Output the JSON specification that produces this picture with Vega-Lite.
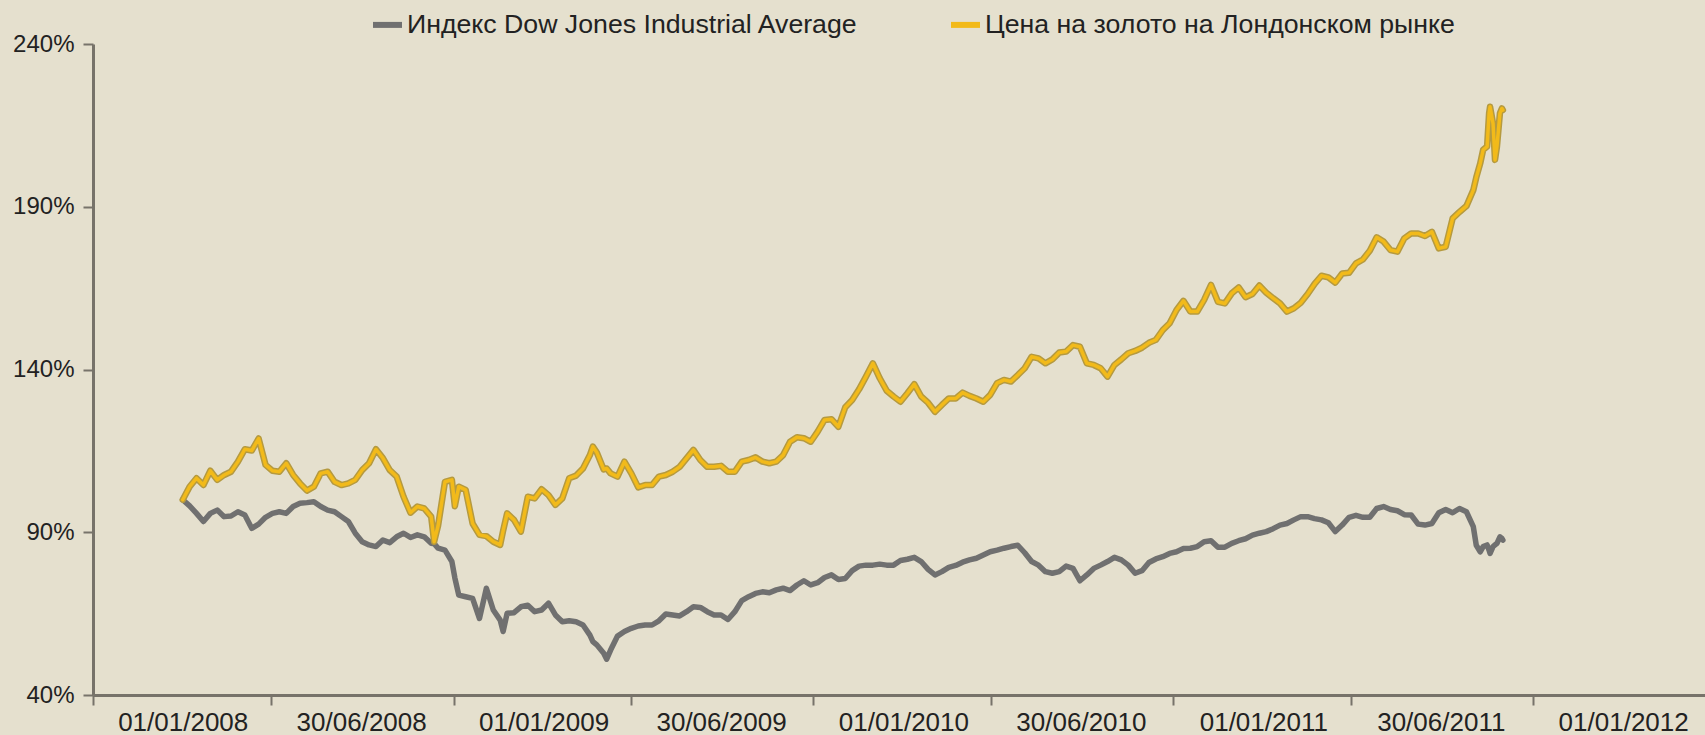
{
  "$schema": "https://vega.github.io/schema/vega-lite/v6.json",
  "width": 1612,
  "height": 651,
  "autosize": {"type": "none"},
  "padding": {"left": 93, "top": 44, "right": 0, "bottom": 40},
  "background": "#E5E0CE",
  "config": {
    "view": {"stroke": null},
    "font": "Liberation Sans"
  },
  "data": {
    "values": [
      {"date": "2008-01-01", "dow": 100, "gold": 100},
      {"date": "2008-01-08", "dow": 98.1, "gold": 104.0},
      {"date": "2008-01-15", "dow": 95.8, "gold": 106.6},
      {"date": "2008-01-22", "dow": 93.3, "gold": 104.5},
      {"date": "2008-01-29", "dow": 95.8, "gold": 108.9},
      {"date": "2008-02-05", "dow": 96.8, "gold": 106.1},
      {"date": "2008-02-12", "dow": 94.8, "gold": 107.6},
      {"date": "2008-02-19", "dow": 95.0, "gold": 108.6},
      {"date": "2008-02-26", "dow": 96.3, "gold": 111.7},
      {"date": "2008-03-04", "dow": 95.3, "gold": 115.5},
      {"date": "2008-03-11", "dow": 91.2, "gold": 115.1},
      {"date": "2008-03-18", "dow": 92.5, "gold": 118.8},
      {"date": "2008-03-25", "dow": 94.6, "gold": 110.7},
      {"date": "2008-04-01", "dow": 95.8, "gold": 108.9},
      {"date": "2008-04-08", "dow": 96.3, "gold": 108.6},
      {"date": "2008-04-15", "dow": 95.8, "gold": 111.2},
      {"date": "2008-04-22", "dow": 97.9, "gold": 107.6},
      {"date": "2008-04-29", "dow": 98.9, "gold": 105.0},
      {"date": "2008-05-06", "dow": 99.1, "gold": 102.8},
      {"date": "2008-05-13", "dow": 99.4, "gold": 104.0},
      {"date": "2008-05-20", "dow": 97.9, "gold": 108.1},
      {"date": "2008-05-27", "dow": 96.8, "gold": 108.6},
      {"date": "2008-06-03", "dow": 96.3, "gold": 105.5},
      {"date": "2008-06-10", "dow": 94.8, "gold": 104.5},
      {"date": "2008-06-17", "dow": 93.3, "gold": 105.0},
      {"date": "2008-06-24", "dow": 89.7, "gold": 106.1},
      {"date": "2008-07-01", "dow": 87.1, "gold": 109.1},
      {"date": "2008-07-08", "dow": 86.1, "gold": 111.2},
      {"date": "2008-07-15", "dow": 85.6, "gold": 115.5},
      {"date": "2008-07-22", "dow": 87.6, "gold": 112.8},
      {"date": "2008-07-29", "dow": 86.8, "gold": 109.1},
      {"date": "2008-08-05", "dow": 88.6, "gold": 107.1},
      {"date": "2008-08-12", "dow": 89.7, "gold": 100.9},
      {"date": "2008-08-19", "dow": 88.4, "gold": 96.0},
      {"date": "2008-08-26", "dow": 89.2, "gold": 97.9},
      {"date": "2008-09-02", "dow": 88.6, "gold": 97.3},
      {"date": "2008-09-09", "dow": 86.6, "gold": 94.8},
      {"date": "2008-09-12", "dow": 86.5, "gold": 87.1},
      {"date": "2008-09-16", "dow": 85.1, "gold": 92.0},
      {"date": "2008-09-23", "dow": 84.5, "gold": 105.5},
      {"date": "2008-09-30", "dow": 81.0, "gold": 106.1},
      {"date": "2008-10-03", "dow": 76.0, "gold": 98.0},
      {"date": "2008-10-07", "dow": 70.7, "gold": 104.0},
      {"date": "2008-10-14", "dow": 70.2, "gold": 103.0},
      {"date": "2008-10-21", "dow": 69.7, "gold": 92.7},
      {"date": "2008-10-28", "dow": 63.5, "gold": 89.2},
      {"date": "2008-11-04", "dow": 72.8, "gold": 88.8},
      {"date": "2008-11-11", "dow": 66.1, "gold": 87.1},
      {"date": "2008-11-18", "dow": 63.0, "gold": 86.1},
      {"date": "2008-11-21", "dow": 59.5, "gold": 90.5},
      {"date": "2008-11-25", "dow": 65.1, "gold": 95.8},
      {"date": "2008-12-02", "dow": 65.3, "gold": 93.8},
      {"date": "2008-12-09", "dow": 67.1, "gold": 90.2},
      {"date": "2008-12-16", "dow": 67.6, "gold": 100.9},
      {"date": "2008-12-23", "dow": 65.6, "gold": 100.4},
      {"date": "2008-12-30", "dow": 66.1, "gold": 103.2},
      {"date": "2009-01-06", "dow": 68.2, "gold": 101.4},
      {"date": "2009-01-13", "dow": 64.6, "gold": 98.4},
      {"date": "2009-01-20", "dow": 62.5, "gold": 100.4},
      {"date": "2009-01-27", "dow": 62.8, "gold": 106.6},
      {"date": "2009-02-03", "dow": 62.5, "gold": 107.4},
      {"date": "2009-02-10", "dow": 61.5, "gold": 109.6},
      {"date": "2009-02-17", "dow": 58.4, "gold": 113.7},
      {"date": "2009-02-20", "dow": 56.4, "gold": 116.3},
      {"date": "2009-02-24", "dow": 55.4, "gold": 114.5},
      {"date": "2009-03-03", "dow": 52.8, "gold": 109.3},
      {"date": "2009-03-06", "dow": 51.0, "gold": 109.6},
      {"date": "2009-03-10", "dow": 53.8, "gold": 108.1},
      {"date": "2009-03-17", "dow": 58.1, "gold": 107.1},
      {"date": "2009-03-24", "dow": 59.5, "gold": 111.7},
      {"date": "2009-03-31", "dow": 60.5, "gold": 108.1},
      {"date": "2009-04-07", "dow": 61.2, "gold": 103.8},
      {"date": "2009-04-14", "dow": 61.5, "gold": 104.5},
      {"date": "2009-04-21", "dow": 61.5, "gold": 104.5},
      {"date": "2009-04-28", "dow": 62.8, "gold": 107.1},
      {"date": "2009-05-05", "dow": 64.9, "gold": 107.6},
      {"date": "2009-05-12", "dow": 64.6, "gold": 108.6},
      {"date": "2009-05-19", "dow": 64.3, "gold": 110.1},
      {"date": "2009-05-26", "dow": 65.6, "gold": 112.7},
      {"date": "2009-06-02", "dow": 67.1, "gold": 115.3},
      {"date": "2009-06-09", "dow": 66.9, "gold": 112.2},
      {"date": "2009-06-16", "dow": 65.6, "gold": 110.1},
      {"date": "2009-06-23", "dow": 64.6, "gold": 110.1},
      {"date": "2009-06-30", "dow": 64.6, "gold": 110.4},
      {"date": "2009-07-07", "dow": 63.2, "gold": 108.6},
      {"date": "2009-07-14", "dow": 65.6, "gold": 108.6},
      {"date": "2009-07-21", "dow": 69.0, "gold": 111.7},
      {"date": "2009-07-28", "dow": 70.2, "gold": 112.2},
      {"date": "2009-08-04", "dow": 71.2, "gold": 113.0},
      {"date": "2009-08-11", "dow": 71.7, "gold": 111.7},
      {"date": "2009-08-18", "dow": 71.4, "gold": 111.2},
      {"date": "2009-08-25", "dow": 72.3, "gold": 111.7},
      {"date": "2009-09-01", "dow": 72.8, "gold": 113.7},
      {"date": "2009-09-08", "dow": 72.1, "gold": 117.8},
      {"date": "2009-09-15", "dow": 73.8, "gold": 119.2},
      {"date": "2009-09-22", "dow": 75.1, "gold": 118.9},
      {"date": "2009-09-29", "dow": 73.8, "gold": 117.8},
      {"date": "2009-10-06", "dow": 74.5, "gold": 120.9},
      {"date": "2009-10-13", "dow": 76.1, "gold": 124.5},
      {"date": "2009-10-20", "dow": 76.9, "gold": 124.7},
      {"date": "2009-10-27", "dow": 75.5, "gold": 122.4},
      {"date": "2009-11-03", "dow": 75.8, "gold": 128.4},
      {"date": "2009-11-10", "dow": 78.2, "gold": 130.6},
      {"date": "2009-11-17", "dow": 79.6, "gold": 133.9},
      {"date": "2009-11-24", "dow": 79.9, "gold": 137.8},
      {"date": "2009-12-01", "dow": 79.9, "gold": 141.9},
      {"date": "2009-12-08", "dow": 80.2, "gold": 137.3},
      {"date": "2009-12-15", "dow": 79.9, "gold": 133.5},
      {"date": "2009-12-22", "dow": 79.9, "gold": 131.7},
      {"date": "2009-12-29", "dow": 81.3, "gold": 130.1},
      {"date": "2010-01-05", "dow": 81.7, "gold": 132.7},
      {"date": "2010-01-12", "dow": 82.3, "gold": 135.5},
      {"date": "2010-01-19", "dow": 81.0, "gold": 131.7},
      {"date": "2010-01-26", "dow": 78.6, "gold": 129.8},
      {"date": "2010-02-02", "dow": 76.9, "gold": 127.0},
      {"date": "2010-02-09", "dow": 77.9, "gold": 129.1},
      {"date": "2010-02-16", "dow": 79.2, "gold": 131.1},
      {"date": "2010-02-23", "dow": 79.8, "gold": 131.1},
      {"date": "2010-03-02", "dow": 80.8, "gold": 132.9},
      {"date": "2010-03-09", "dow": 81.5, "gold": 131.9},
      {"date": "2010-03-16", "dow": 82.0, "gold": 131.1},
      {"date": "2010-03-23", "dow": 83.0, "gold": 130.1},
      {"date": "2010-03-30", "dow": 84.0, "gold": 132.2},
      {"date": "2010-04-06", "dow": 84.5, "gold": 135.8},
      {"date": "2010-04-13", "dow": 85.1, "gold": 136.8},
      {"date": "2010-04-20", "dow": 85.6, "gold": 136.3},
      {"date": "2010-04-27", "dow": 86.0, "gold": 138.3},
      {"date": "2010-05-04", "dow": 83.7, "gold": 140.4},
      {"date": "2010-05-11", "dow": 81.0, "gold": 143.9},
      {"date": "2010-05-18", "dow": 79.9, "gold": 143.4},
      {"date": "2010-05-25", "dow": 77.9, "gold": 141.9},
      {"date": "2010-06-01", "dow": 77.4, "gold": 143.1},
      {"date": "2010-06-08", "dow": 77.9, "gold": 145.2},
      {"date": "2010-06-15", "dow": 79.6, "gold": 145.5},
      {"date": "2010-06-22", "dow": 78.9, "gold": 147.5},
      {"date": "2010-06-29", "dow": 75.1, "gold": 147.0},
      {"date": "2010-07-06", "dow": 76.9, "gold": 141.9},
      {"date": "2010-07-13", "dow": 78.9, "gold": 141.4},
      {"date": "2010-07-20", "dow": 79.9, "gold": 140.4},
      {"date": "2010-07-27", "dow": 81.0, "gold": 137.8},
      {"date": "2010-08-03", "dow": 82.3, "gold": 141.4},
      {"date": "2010-08-10", "dow": 81.5, "gold": 143.1},
      {"date": "2010-08-17", "dow": 79.9, "gold": 145.0},
      {"date": "2010-08-24", "dow": 77.4, "gold": 145.7},
      {"date": "2010-08-31", "dow": 78.2, "gold": 146.7},
      {"date": "2010-09-07", "dow": 80.7, "gold": 148.2},
      {"date": "2010-09-14", "dow": 81.8, "gold": 149.1},
      {"date": "2010-09-21", "dow": 82.5, "gold": 152.1},
      {"date": "2010-09-28", "dow": 83.5, "gold": 154.2},
      {"date": "2010-10-05", "dow": 84.0, "gold": 158.3},
      {"date": "2010-10-12", "dow": 85.0, "gold": 161.1},
      {"date": "2010-10-19", "dow": 85.1, "gold": 157.8},
      {"date": "2010-10-26", "dow": 85.6, "gold": 157.8},
      {"date": "2010-11-02", "dow": 87.1, "gold": 161.4},
      {"date": "2010-11-09", "dow": 87.4, "gold": 166.0},
      {"date": "2010-11-16", "dow": 85.4, "gold": 160.8},
      {"date": "2010-11-23", "dow": 85.4, "gold": 160.3},
      {"date": "2010-11-30", "dow": 86.6, "gold": 163.4},
      {"date": "2010-12-07", "dow": 87.4, "gold": 165.2},
      {"date": "2010-12-14", "dow": 88.0, "gold": 162.2},
      {"date": "2010-12-21", "dow": 89.1, "gold": 163.2},
      {"date": "2010-12-28", "dow": 89.7, "gold": 165.8},
      {"date": "2011-01-04", "dow": 90.2, "gold": 163.6},
      {"date": "2011-01-11", "dow": 91.1, "gold": 161.9},
      {"date": "2011-01-18", "dow": 92.2, "gold": 160.3},
      {"date": "2011-01-25", "dow": 92.7, "gold": 157.8},
      {"date": "2011-02-01", "dow": 93.8, "gold": 158.8},
      {"date": "2011-02-08", "dow": 94.8, "gold": 160.5},
      {"date": "2011-02-15", "dow": 94.8, "gold": 163.2},
      {"date": "2011-02-22", "dow": 94.2, "gold": 166.3},
      {"date": "2011-03-01", "dow": 93.8, "gold": 168.8},
      {"date": "2011-03-08", "dow": 92.9, "gold": 168.3},
      {"date": "2011-03-15", "dow": 90.2, "gold": 166.7},
      {"date": "2011-03-22", "dow": 92.2, "gold": 169.5},
      {"date": "2011-03-29", "dow": 94.6, "gold": 169.7},
      {"date": "2011-04-05", "dow": 95.2, "gold": 172.6},
      {"date": "2011-04-12", "dow": 94.6, "gold": 173.8},
      {"date": "2011-04-19", "dow": 94.6, "gold": 176.5},
      {"date": "2011-04-26", "dow": 97.3, "gold": 180.6},
      {"date": "2011-05-03", "dow": 97.9, "gold": 179.3},
      {"date": "2011-05-10", "dow": 97.0, "gold": 176.7},
      {"date": "2011-05-17", "dow": 96.6, "gold": 176.2},
      {"date": "2011-05-24", "dow": 95.4, "gold": 180.3},
      {"date": "2011-05-31", "dow": 95.3, "gold": 181.8},
      {"date": "2011-06-07", "dow": 92.5, "gold": 181.8},
      {"date": "2011-06-14", "dow": 92.2, "gold": 181.0},
      {"date": "2011-06-21", "dow": 92.7, "gold": 182.3},
      {"date": "2011-06-28", "dow": 96.0, "gold": 177.2},
      {"date": "2011-07-05", "dow": 97.0, "gold": 177.7},
      {"date": "2011-07-12", "dow": 96.0, "gold": 186.4},
      {"date": "2011-07-19", "dow": 97.3, "gold": 188.4},
      {"date": "2011-07-26", "dow": 96.3, "gold": 190.2},
      {"date": "2011-08-02", "dow": 91.7, "gold": 195.1},
      {"date": "2011-08-05", "dow": 86.0, "gold": 199.0},
      {"date": "2011-08-09", "dow": 84.0, "gold": 203.3},
      {"date": "2011-08-12", "dow": 85.6, "gold": 207.5},
      {"date": "2011-08-16", "dow": 86.1, "gold": 208.5},
      {"date": "2011-08-18", "dow": 84.5, "gold": 218.7},
      {"date": "2011-08-19", "dow": 83.5, "gold": 220.7},
      {"date": "2011-08-22", "dow": 85.6, "gold": 215.6},
      {"date": "2011-08-24", "dow": 86.1, "gold": 204.4},
      {"date": "2011-08-26", "dow": 86.6, "gold": 208.5},
      {"date": "2011-08-29", "dow": 88.6, "gold": 218.7},
      {"date": "2011-08-31", "dow": 88.1, "gold": 220.2},
      {"date": "2011-09-01", "dow": 87.6, "gold": 219.7}
    ]
  },
  "transform": [
    {"fold": ["dow", "gold"], "as": ["series", "value"]}
  ],
  "encoding": {
    "x": {
      "field": "date",
      "type": "temporal",
      "scale": {
        "domain": [
          {"year": 2007, "month": 10, "date": 2},
          {"year": 2012, "month": 3, "date": 24}
        ]
      },
      "axis": {
        "title": null,
        "values": [
          {"year": 2008, "month": 1, "date": 1},
          {"year": 2008, "month": 6, "date": 30},
          {"year": 2009, "month": 1, "date": 1},
          {"year": 2009, "month": 6, "date": 30},
          {"year": 2010, "month": 1, "date": 1},
          {"year": 2010, "month": 6, "date": 30},
          {"year": 2011, "month": 1, "date": 1},
          {"year": 2011, "month": 6, "date": 30},
          {"year": 2012, "month": 1, "date": 1}
        ],
        "format": "%d/%m/%Y",
        "grid": false,
        "tickOffset": -90,
        "labelOffset": 90,
        "tickSize": 10,
        "tickWidth": 2,
        "tickColor": "#77736a",
        "domainColor": "#77736a",
        "domainWidth": 3,
        "labelPadding": 4,
        "labelFont": "Liberation Sans",
        "labelFontSize": 26,
        "labelColor": "#222222",
        "labelFlush": false,
        "labelOverlap": false
      }
    },
    "y": {
      "field": "value",
      "type": "quantitative",
      "scale": {"domain": [40, 240], "nice": false, "zero": false},
      "axis": {
        "title": null,
        "values": [40, 90, 140, 190, 240],
        "labelExpr": "datum.value + '%'",
        "grid": false,
        "tickSize": 10,
        "tickWidth": 2,
        "tickColor": "#77736a",
        "domainColor": "#77736a",
        "domainWidth": 3,
        "labelPadding": 9,
        "labelFont": "Liberation Sans",
        "labelFontSize": 24,
        "labelColor": "#222222",
        "labelFlush": false,
        "labelOverlap": false
      }
    }
  },
  "layer": [
    {
      "transform": [{"filter": "datum.series == 'dow'"}],
      "mark": {"type": "line", "strokeWidth": 5.5, "strokeJoin": "round", "strokeCap": "round"},
      "encoding": {
        "color": {
          "field": "series",
          "type": "nominal",
          "scale": {"domain": ["dow", "gold"], "range": ["#707070", "#F2BA1A"]},
          "legend": {
            "title": null,
            "orient": "none",
            "direction": "horizontal",
            "legendX": 277,
            "legendY": -37,
            "symbolType": "stroke",
            "symbolSize": 841,
            "symbolStrokeWidth": 6,
            "labelOffset": 2,
            "columnPadding": 80,
            "labelFont": "Liberation Sans",
            "labelFontSize": 26.7,
            "labelColor": "#222222",
            "labelLimit": 0,
            "labelExpr": "datum.value == 'dow' ? 'Индекс Dow Jones Industrial Average' : 'Цена на золото на Лондонском рынке'"
          }
        }
      }
    },
    {
      "transform": [{"filter": "datum.series == 'gold'"}],
      "mark": {"type": "line", "strokeWidth": 6.5, "color": "#B59A40", "strokeJoin": "round", "strokeCap": "round"},
      "encoding": {}
    },
    {
      "transform": [{"filter": "datum.series == 'gold'"}],
      "mark": {"type": "line", "strokeWidth": 3.5, "strokeJoin": "round", "strokeCap": "round"},
      "encoding": {
        "color": {
          "field": "series",
          "type": "nominal",
          "scale": {"domain": ["dow", "gold"], "range": ["#707070", "#F2BA1A"]},
          "legend": {
            "title": null,
            "orient": "none",
            "direction": "horizontal",
            "legendX": 277,
            "legendY": -37,
            "symbolType": "stroke",
            "symbolSize": 841,
            "symbolStrokeWidth": 6,
            "labelOffset": 2,
            "columnPadding": 80,
            "labelFont": "Liberation Sans",
            "labelFontSize": 26.7,
            "labelColor": "#222222",
            "labelLimit": 0,
            "labelExpr": "datum.value == 'dow' ? 'Индекс Dow Jones Industrial Average' : 'Цена на золото на Лондонском рынке'"
          }
        }
      }
    }
  ]
}
